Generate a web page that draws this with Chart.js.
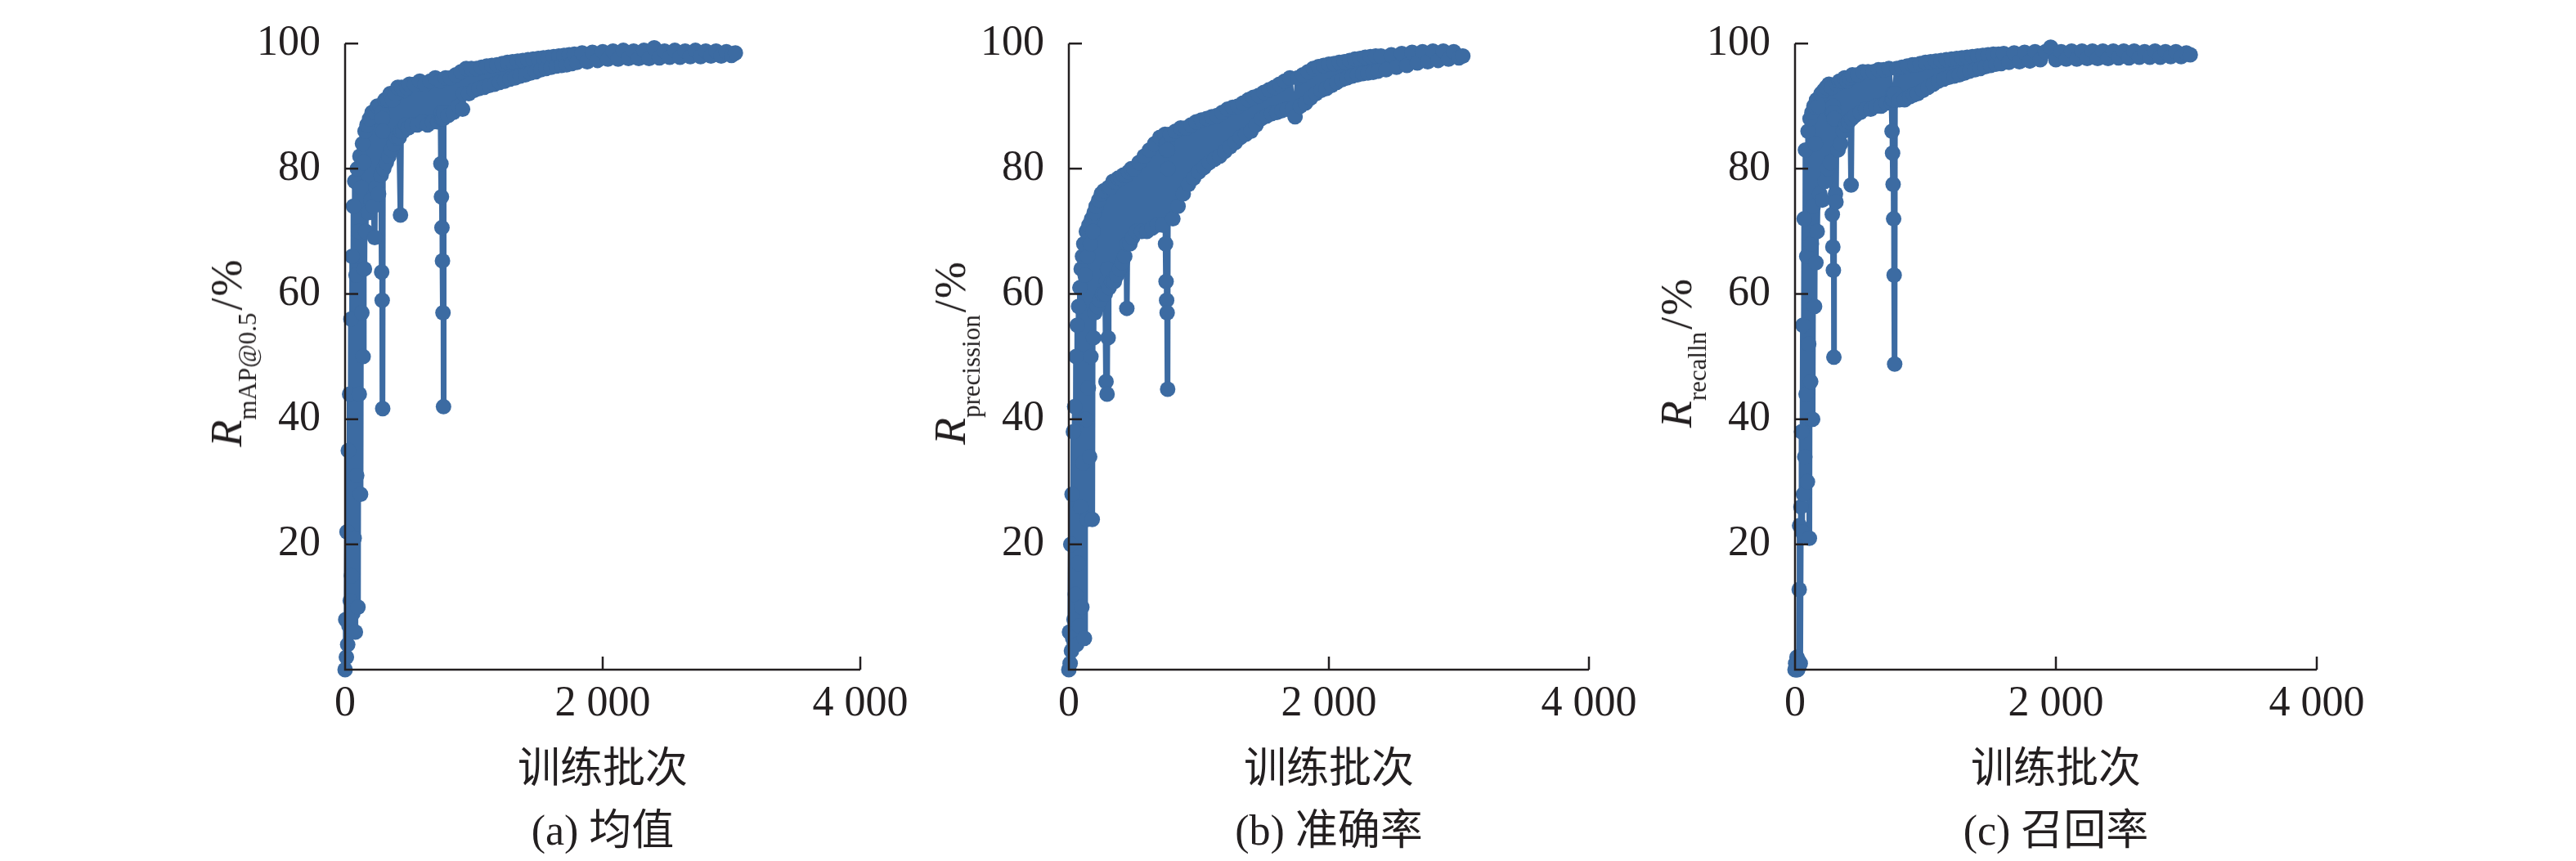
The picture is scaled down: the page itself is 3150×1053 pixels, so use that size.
<!DOCTYPE html>
<html>
<head>
<meta charset="utf-8">
<script src="https://cdn.jsdelivr.net/npm/chart.js@4.4.1/dist/chart.umd.min.js"></script>
<style>
html,body{margin:0;padding:0;background:#fff;}
body{width:3150px;height:1053px;position:relative;overflow:hidden;font-family:"Liberation Serif","Times New Roman",serif;color:#231f20;}
canvas{position:absolute;top:0;}
.ylab{position:absolute;top:432px;font-size:54px;line-height:1;white-space:nowrap;transform:translate(-50%,-50%) rotate(-90deg);}
.ylab sub{font-size:31px;vertical-align:-18px;line-height:0;}
.ylab .sl{padding:0 2px 0 3px;}
.xt,.cap{position:absolute;font-size:52px;line-height:1;white-space:nowrap;transform:translate(-50%,-50%);}
.xt{top:935px;font-family:"Noto Sans CJK SC",sans-serif;}
.cap{top:1013px;}
.cap span{font-family:"Noto Sans CJK SC",sans-serif;}
</style>
</head>
<body>
<canvas id="ca"></canvas>
<canvas id="cb"></canvas>
<canvas id="cc"></canvas>

<div class="ylab" style="left:277px"><i>R</i><sub>mAP@0.5</sub><span class="sl">/</span>%</div>
<div class="ylab" style="left:1162px"><i>R</i><sub>precission</sub><span class="sl">/</span>%</div>
<div class="ylab" style="left:2050px"><i>R</i><sub>recalln</sub><span class="sl">/</span>%</div>

<div class="xt" style="left:737px">训练批次</div>
<div class="xt" style="left:1625px">训练批次</div>
<div class="xt" style="left:2514px">训练批次</div>

<div class="cap" style="left:737px">(a) <span>均值</span></div>
<div class="cap" style="left:1625px">(b) <span>准确率</span></div>
<div class="cap" style="left:2514px">(c) <span>召回率</span></div>

<script>
// tick values / labels
const xTickVals=[0,2000,4000];
const xTickLabels=['0','2 000','4 000'];
const yTickVals=[20,40,60,80,100];

// (a) mAP@0.5 per training batch
const epochsA=[
0,5,10,15,20,25,30,35,40,45,
50,55,60,65,70,75,80,85,90,95,
100,105,110,115,120,125,130,135,140,145,
150,155,160,170,180,190,200,210,220,230,
235,240,250,260,270,280,284,286,288,290,
292,294,300,310,320,330,340,350,360,370,
380,390,400,410,420,430,434,440,450,460,
470,480,490,500,520,540,560,580,600,620,
640,660,680,700,720,740,744,746,748,750,
752,754,756,758,760,762,764,766,780,800,
820,840,860,880,900,912,920,940,960,980,
1000,1020,1040,1060,1080,1100,1120,1140,1160,1180,
1200,1220,1240,1260,1280,1300,1320,1340,1360,1380,
1400,1420,1440,1460,1480,1500,1520,1540,1560,1580,
1600,1620,1640,1660,1680,1700,1720,1740,1760,1780,
1800,1840,1880,1920,1960,2000,2040,2080,2120,2160,
2200,2240,2280,2320,2360,2400,2440,2480,2520,2560,
2600,2640,2680,2720,2760,2800,2840,2880,2920,2960,
3000,3030];
const mapA=[
0,8,2,22,4,35,7,44,11,56,
15,66,9,74,21,78,6,63,31,80,
10,70,44,82,28,77,57,84,50,81,
64,86,70,87,73,88,75,89,74,69,
89,77,90,76,90,79,63.5,89,59,88,
41.7,86,80,91,81,91,82,92,83,91,
84,92,85,93,85,72.6,86,93,86,92.5,
87,93,86.5,93.5,87,93.5,87,94,87.5,93.5,
87,94,87.5,94.5,87.5,94,80.8,88,75.5,89,
70.6,88,65.3,88.5,57,88,42,89,94.5,88.5,
94.5,89,95,90,95.5,89.5,92,96,92,96,
92.5,96,92.8,96.2,93,96.4,93.3,96.5,93.5,96.6,
93.8,96.8,94,97,94.3,97.1,94.5,97.2,94.8,97.3,
95,97.4,95.3,97.5,95.5,97.6,95.8,97.7,96,97.8,
96.2,97.9,96.4,98,96.5,98.1,96.6,98.2,96.8,98.3,
97,98.5,97.1,98.6,97.3,98.7,97.5,98.8,97.5,98.9,
97.6,98.8,97.6,98.9,97.6,99.3,97.7,98.8,97.8,98.9,
97.8,98.8,97.9,98.9,97.9,98.8,98,98.8,98,98.7,
98.1,98.5];

// (b) precision
const epochsB=[
0,5,10,15,20,25,30,35,40,45,
50,55,60,65,70,75,80,85,90,95,
100,105,110,115,120,125,130,135,140,145,
150,155,160,165,170,175,180,185,190,195,
200,210,220,230,240,250,260,270,280,286,
290,294,298,302,306,310,320,330,340,350,
360,370,380,390,400,410,420,430,440,446,
450,460,470,480,490,500,520,540,560,580,
600,620,640,660,680,700,720,740,744,746,
748,750,752,754,756,758,760,762,780,800,
820,840,860,880,900,920,940,960,980,1000,
1020,1040,1060,1080,1100,1120,1140,1160,1180,1200,
1220,1240,1260,1280,1300,1320,1340,1360,1380,1400,
1420,1440,1460,1480,1500,1520,1540,1560,1580,1600,
1620,1640,1660,1680,1700,1720,1740,1760,1780,1800,
1820,1840,1860,1880,1900,1920,1940,1960,1980,2000,
2020,2040,2060,2080,2100,2120,2140,2160,2180,2200,
2220,2240,2260,2280,2300,2320,2340,2360,2380,2400,
2440,2480,2520,2560,2600,2640,2680,2720,2760,2800,
2840,2880,2920,2960,3000,3030];
const precisionB=[
0,6,1,20,3,28,5,38,8,42,
12,50,4,55,17,58,7,61,26,64,
10,66,33,68,5,63,40,70,24,66,
45,71,34,68,50,72,24,70,53,73,
57,74,58,75,59,76,60,76.5,60,46,
62,44,64,53,77,61,77,62,78,62,
78,63,78.5,64,78.5,65,79,66,79,57.7,
68,79.5,68,80,69,80,70,81,70,82,
70,83,70.5,84,71,85,71,85.5,68,84,
62,83,59,84,57,83,44.8,80,85.5,72,
86,74,86.5,76,86.5,77.5,87,78.5,87.5,79.5,
87.8,80.2,88,81,88.3,81.5,88.5,82,89,82.8,
89.5,83.5,89.8,84.2,90,85,90.5,85.5,91,86,
91.4,87,91.7,88,92.2,88.4,92.6,88.8,93,89,
93.5,89.3,94,89.5,94.5,89.6,88.3,94.5,90,95,
90.5,95.5,91.3,96,92,96.3,92.5,96.5,92.8,96.7,
93.3,96.8,93.8,97,94.2,97.1,94.5,97.3,94.8,97.5,
95,97.6,95.2,97.8,95.3,97.9,95.4,98,95.6,98,
95.8,98.2,96.2,98.4,96.5,98.6,96.9,98.7,97.1,98.8,
97.3,98.8,97.5,98.7,97.7,98];

// (c) recall
const epochsC=[
0,5,10,15,20,25,30,32,35,40,
45,50,55,60,65,70,75,80,85,90,
95,100,105,110,115,120,125,130,135,140,
145,150,155,160,165,170,180,190,200,210,
220,230,240,250,260,270,280,286,288,290,
292,294,296,298,300,310,314,320,330,340,
350,360,370,380,390,400,410,420,430,434,
440,460,480,500,520,540,560,580,600,620,
640,660,680,700,720,740,744,746,748,750,
752,754,756,758,760,762,764,766,780,800,
820,840,860,880,900,910,920,940,960,980,
1000,1020,1040,1060,1080,1100,1120,1140,1160,1180,
1200,1220,1240,1260,1280,1300,1320,1340,1360,1380,
1400,1420,1440,1460,1480,1500,1520,1540,1560,1580,
1600,1640,1680,1720,1760,1800,1840,1880,1920,1960,
2000,2040,2080,2120,2160,2200,2240,2280,2320,2360,
2400,2440,2480,2520,2560,2600,2640,2680,2720,2760,
2800,2840,2880,2920,2960,3000,3030];
const recallC=[
0,1,0,2,0,1.5,0.5,12.8,23,1,
26,38,22,55,28,72,34,83,44,66,
30,86,52,21,88,46,68,89,40,74,
90,58,84,65,91,70,90,76,92,75,
92.5,78,93,80,93.5,81,93,72.7,89,67.5,
90,63.8,89,49.9,88,76,74.7,93.5,83,94,
84,94,86,94.5,87,94,87.5,94.5,77.4,88,
95,88.5,95,89,95.5,89.5,95.5,89.5,95.5,90,
95.8,90,95.8,90.5,96,90.5,86,91,82.5,92,
77.5,91,72,92,63,91,48.8,92,96,91,
96.2,91,96.4,91.5,96.6,91.8,96.6,92,96.8,92.5,
97,93,97.1,93.5,97.2,94,97.3,94.3,97.4,94.6,
97.5,94.8,97.6,95,97.7,95.3,97.8,95.6,97.9,95.8,
98,96,98.1,96.3,98.2,96.5,98.3,96.7,98.3,96.8,
98.4,97,98.5,97.1,98.6,97.2,98.7,97.4,98.7,99.4,
97.4,98.7,97.5,98.8,97.5,98.8,97.6,98.8,97.6,98.8,
97.6,98.8,97.7,98.8,97.7,98.8,97.8,98.7,97.8,98.8,
97.8,98.7,97.9,98.7,97.9,98.5,98.2];

const BLUE='#3c6ba2',INK='#231f20';
const YAXIS_W=130,PAD_R=70,PAD_T=31,XAXIS_H=234,H=1053;

// axes drawn by hand: ticks point inward like the original figure
const inwardAxes={id:'inwardAxes',afterDatasetsDraw(chart){
  const {ctx,chartArea:{left,right,top,bottom},scales:{x,y}}=chart;
  ctx.save();
  ctx.strokeStyle=INK;ctx.lineWidth=2.5;
  ctx.beginPath();
  ctx.moveTo(left,top);ctx.lineTo(left,bottom);ctx.lineTo(right,bottom);
  yTickVals.forEach(v=>{const p=y.getPixelForValue(v);ctx.moveTo(left,p);ctx.lineTo(left+16,p);});
  xTickVals.forEach(v=>{if(!v)return;const p=x.getPixelForValue(v);ctx.moveTo(p,bottom);ctx.lineTo(p,bottom-16);});
  ctx.stroke();
  ctx.restore();
}};

function makePanel(id,axisLeft,plotW,xs,ys){
  const cv=document.getElementById(id);
  cv.width=YAXIS_W+plotW+PAD_R;cv.height=H;
  cv.style.left=(axisLeft-YAXIS_W)+'px';
  const pts=xs.map((e,i)=>({x:e,y:ys[i]}));
  const tickFont={family:'"Liberation Serif","Times New Roman",serif',size:52};
  new Chart(cv,{
    type:'line',
    data:{datasets:[{data:pts,borderColor:BLUE,backgroundColor:BLUE,borderWidth:7,
      borderJoinStyle:'round',borderCapStyle:'round',
      pointRadius:9.5,pointBackgroundColor:BLUE,pointBorderWidth:0,tension:0,clip:false}]},
    options:{
      responsive:false,animation:false,devicePixelRatio:1,
      layout:{padding:{top:PAD_T,right:PAD_R,left:0,bottom:0}},
      plugins:{legend:{display:false},tooltip:{enabled:false}},
      scales:{
        x:{type:'linear',min:0,max:4000,grid:{display:false},border:{display:false},
          afterBuildTicks:s=>{s.ticks=xTickVals.map(v=>({value:v}));},
          afterFit:s=>{s.height=XAXIS_H;},
          ticks:{padding:3,maxRotation:0,autoSkip:false,color:INK,font:tickFont,
            callback:(v,i)=>xTickLabels[i]}},
        y:{type:'linear',min:0,max:100,grid:{display:false},border:{display:false},
          afterBuildTicks:s=>{s.ticks=yTickVals.map(v=>({value:v}));},
          afterFit:s=>{s.width=YAXIS_W;},
          ticks:{padding:22,autoSkip:false,color:INK,font:tickFont,callback:v=>String(v)}}
      }
    },
    plugins:[inwardAxes]
  });
}

makePanel('ca',422,630,epochsA,mapA);
makePanel('cb',1307,636,epochsB,precisionB);
makePanel('cc',2195,638,epochsC,recallC);
</script>
</body>
</html>
